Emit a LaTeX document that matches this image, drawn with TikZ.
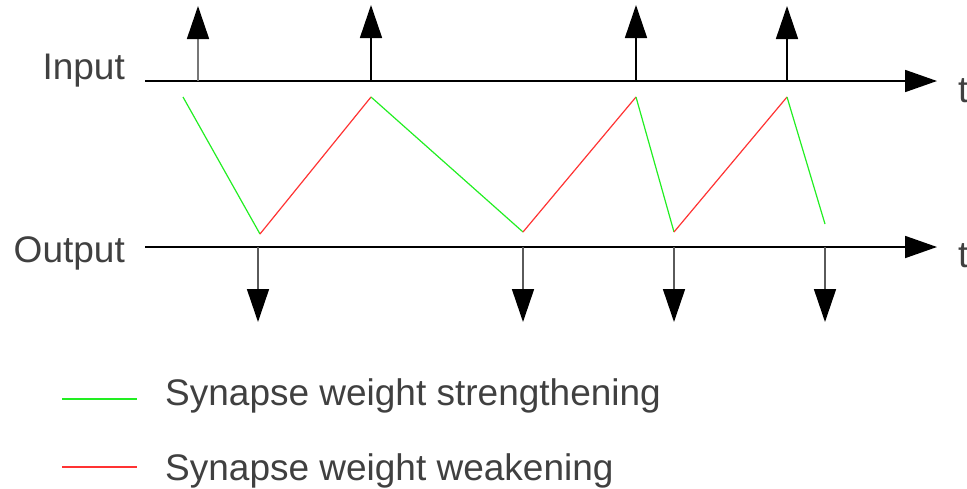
\documentclass[tikz,border=0pt]{standalone}
\usepackage{fontspec}
\setmainfont{Liberation Sans}
\usetikzlibrary{arrows.meta}
\definecolor{txt}{HTML}{404040}
\definecolor{grn}{HTML}{22EE22}
\definecolor{rd}{HTML}{FF3333}
\definecolor{stemA}{HTML}{777777}
\definecolor{stemB}{HTML}{5A5A5A}
\begin{document}
\begin{tikzpicture}[x=1pt,y=-1pt,
  lbl/.style={inner sep=0pt,text=txt,font=\fontsize{37}{44}\selectfont},
  axis/.style={line width=1.8pt,black,-{Triangle[length=32pt,width=22pt,black]}},
  spike/.style={line width=1.6pt,-{Triangle[length=33pt,width=22pt,black]}},
  strong/.style={grn,line width=1.2pt},
  weak/.style={rd,line width=1.2pt}]
\useasboundingbox (0,0) rectangle (967,488);
% axes
\coordinate (ia) at (145,81);  \coordinate (ib) at (937,81);
\coordinate (oa) at (145,247); \coordinate (ob) at (937,247);
\draw[axis] (ia) -- (ib);
\draw[axis] (oa) -- (ob);
% labels
\node[lbl,anchor=base east] (inl) at (125,79) {Input};
\node[lbl,anchor=base east] (outl) at (125,262) {Output};
\node[lbl,anchor=base west] (t1) at (958,102) {t};
\node[lbl,anchor=base west] (t2) at (958,267) {t};
% input spikes
\coordinate (s1) at (198,81); \coordinate (s1t) at (198,6);
\coordinate (s2) at (371,81); \coordinate (s2t) at (371,5);
\coordinate (s3) at (636,81); \coordinate (s3t) at (636,5);
\coordinate (s4) at (787,81); \coordinate (s4t) at (787,6);
\draw[spike,stemA] (s1) -- (s1t);
\draw[spike,black] (s2) -- (s2t);
\draw[spike,black] (s3) -- (s3t);
\draw[spike,black] (s4) -- (s4t);
% output spikes
\coordinate (r1) at (258,247); \coordinate (r1t) at (258,322);
\coordinate (r2) at (523,247); \coordinate (r2t) at (523,322);
\coordinate (r3) at (674,247); \coordinate (r3t) at (674,322);
\coordinate (r4) at (825,247); \coordinate (r4t) at (825,322);
\draw[spike,stemB] (r1) -- (r1t);
\draw[spike,stemB] (r2) -- (r2t);
\draw[spike,stemB] (r3) -- (r3t);
\draw[spike,stemB] (r4) -- (r4t);
% weight curve
\coordinate (p0) at (183,97);
\coordinate (p1) at (260,234);
\coordinate (p2) at (371,97);
\coordinate (p3) at (523,232);
\coordinate (p4) at (636,97);
\coordinate (p5) at (674,232);
\coordinate (p6) at (787,97);
\coordinate (p7) at (825,224);
\draw[strong] (p0) -- (p1);
\draw[weak] (p1) -- (p2);
\draw[strong] (p2) -- (p3);
\draw[weak] (p3) -- (p4);
\draw[strong] (p4) -- (p5);
\draw[weak] (p5) -- (p6);
\draw[strong] (p6) -- (p7);
% legend
\coordinate (g1) at (62,399); \coordinate (g2) at (137,399);
\coordinate (h1) at (62,467); \coordinate (h2) at (137,467);
\draw[strong] (g1) -- (g2);
\draw[weak] (h1) -- (h2);
\node[lbl,anchor=base west] (leg1) at (165,405) {Synapse weight strengthening};
\node[lbl,anchor=base west] (leg2) at (165,480) {Synapse weight weakening};
\end{tikzpicture}
\end{document}
